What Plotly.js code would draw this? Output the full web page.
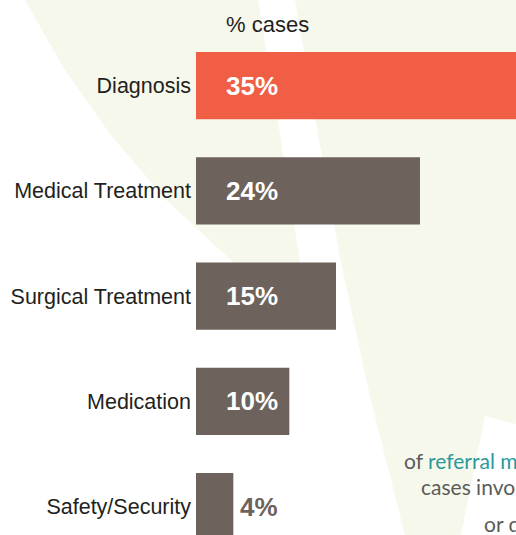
<!DOCTYPE html>
<html>
<head>
<meta charset="utf-8">
<script src="https://cdn.plot.ly/plotly-3.0.1.min.js"></script>
<style>
  html, body { margin: 0; padding: 0; background: #ffffff; overflow: hidden; }
  #chart { width: 516px; height: 535px; }
</style>
</head>
<body>
<div id="chart"></div>
<script>
// ---- data ----
const categories = ["Diagnosis", "Medical Treatment", "Surgical Treatment", "Medication", "Safety/Security"];
const values = [35, 24, 15, 10, 4];
const barColors = ["#F05E45", "#6E625D", "#6E625D", "#6E625D", "#6E625D"];
const axisTitle = "% cases";
const noteLines = [
  'of <span style="color:#2A999C">referral m</span>',
  'cases invo',
  'or d'
];

// ---- layout geometry (pixels) ----
const W = 516, H = 535;
const M = { l: 196, r: 0, t: 33, b: 0 };
const plotW = W - M.l - M.r, plotH = H - M.t - M.b;
const px2paperX = px => (px - M.l) / plotW;
const px2paperY = py => (H - M.b - py) / plotH;
function pathFrom(points) {
  return points.map((p, i) => (i ? 'L' : 'M') + px2paperX(p[0]).toFixed(4) + ',' + px2paperY(p[1]).toFixed(4)).join(' ') + ' Z';
}

const cream = "#F7F8EC";
const shapeA = [[25,0],[258,0],[280,134],[301,268],[312,325],[282,300],[233,262],[167,201],[110,134],[63,67]];
const shapeB = [[295,0],[516,0],[516,424],[485,416],[461,535],[405,535],[371,401],[342,268],[318,134]];

const trace = {
  type: 'bar',
  orientation: 'h',
  y: categories,
  x: values,
  marker: { color: barColors, line: { width: 0 } },
  hoverinfo: 'skip',
  textposition: 'none'
};

const valueAnnotations = categories.map((c, i) => {
  const inside = values[i] >= 8;
  return {
    xref: 'x', yref: 'y',
    x: inside ? 0 : values[i],
    y: c,
    xanchor: 'left', yanchor: 'middle',
    xshift: inside ? 28 : 5,
    text: values[i] + '%',
    showarrow: false,
    font: { family: 'Liberation Sans, Arial, sans-serif', size: 26, color: inside ? '#FFFFFF' : barColors[i], weight: 'bold' }
  };
});

const notePos = [[402, 460], [419, 486], [482, 523]];
const noteAnnotations = noteLines.map((t, i) => ({
  xref: 'paper', yref: 'paper',
  x: px2paperX(notePos[i][0]), y: px2paperY(notePos[i][1]),
  xanchor: 'left', yanchor: 'middle',
  text: t, showarrow: false,
  font: { family: 'Lato, Open Sans, sans-serif', size: 21, color: '#5B5B5B' }
}));

const layout = {
  width: W, height: H,
  margin: M,
  paper_bgcolor: '#FFFFFF',
  plot_bgcolor: 'rgba(0,0,0,0)',
  showlegend: false,
  bargap: 0.3634,
  xaxis: { range: [0, plotW / 9.333], visible: false, fixedrange: true },
  yaxis: {
    type: 'category',
    categoryorder: 'array', categoryarray: categories,
    range: [-0.5 + plotH / 105.25, -0.5],
    showgrid: false, zeroline: false, showline: false,
    ticks: '', ticklabelstandoff: 4,
    automargin: false,
    tickfont: { family: 'Liberation Sans, Arial, sans-serif', size: 21.5, color: '#231F20' }
  },
  shapes: [
    { type: 'path', xref: 'paper', yref: 'paper', layer: 'below', path: pathFrom(shapeA), fillcolor: cream, line: { width: 0 } },
    { type: 'path', xref: 'paper', yref: 'paper', layer: 'below', path: pathFrom(shapeB), fillcolor: cream, line: { width: 0 } }
  ],
  annotations: [
    {
      xref: 'paper', yref: 'paper',
      x: px2paperX(224), y: px2paperY(24),
      xanchor: 'left', yanchor: 'middle',
      text: axisTitle, showarrow: false,
      font: { family: 'Liberation Sans, Arial, sans-serif', size: 22, color: '#231F20' }
    }
  ].concat(valueAnnotations, noteAnnotations)
};

Plotly.newPlot('chart', [trace], layout, { displayModeBar: false, staticPlot: true });
</script>
</body>
</html>
